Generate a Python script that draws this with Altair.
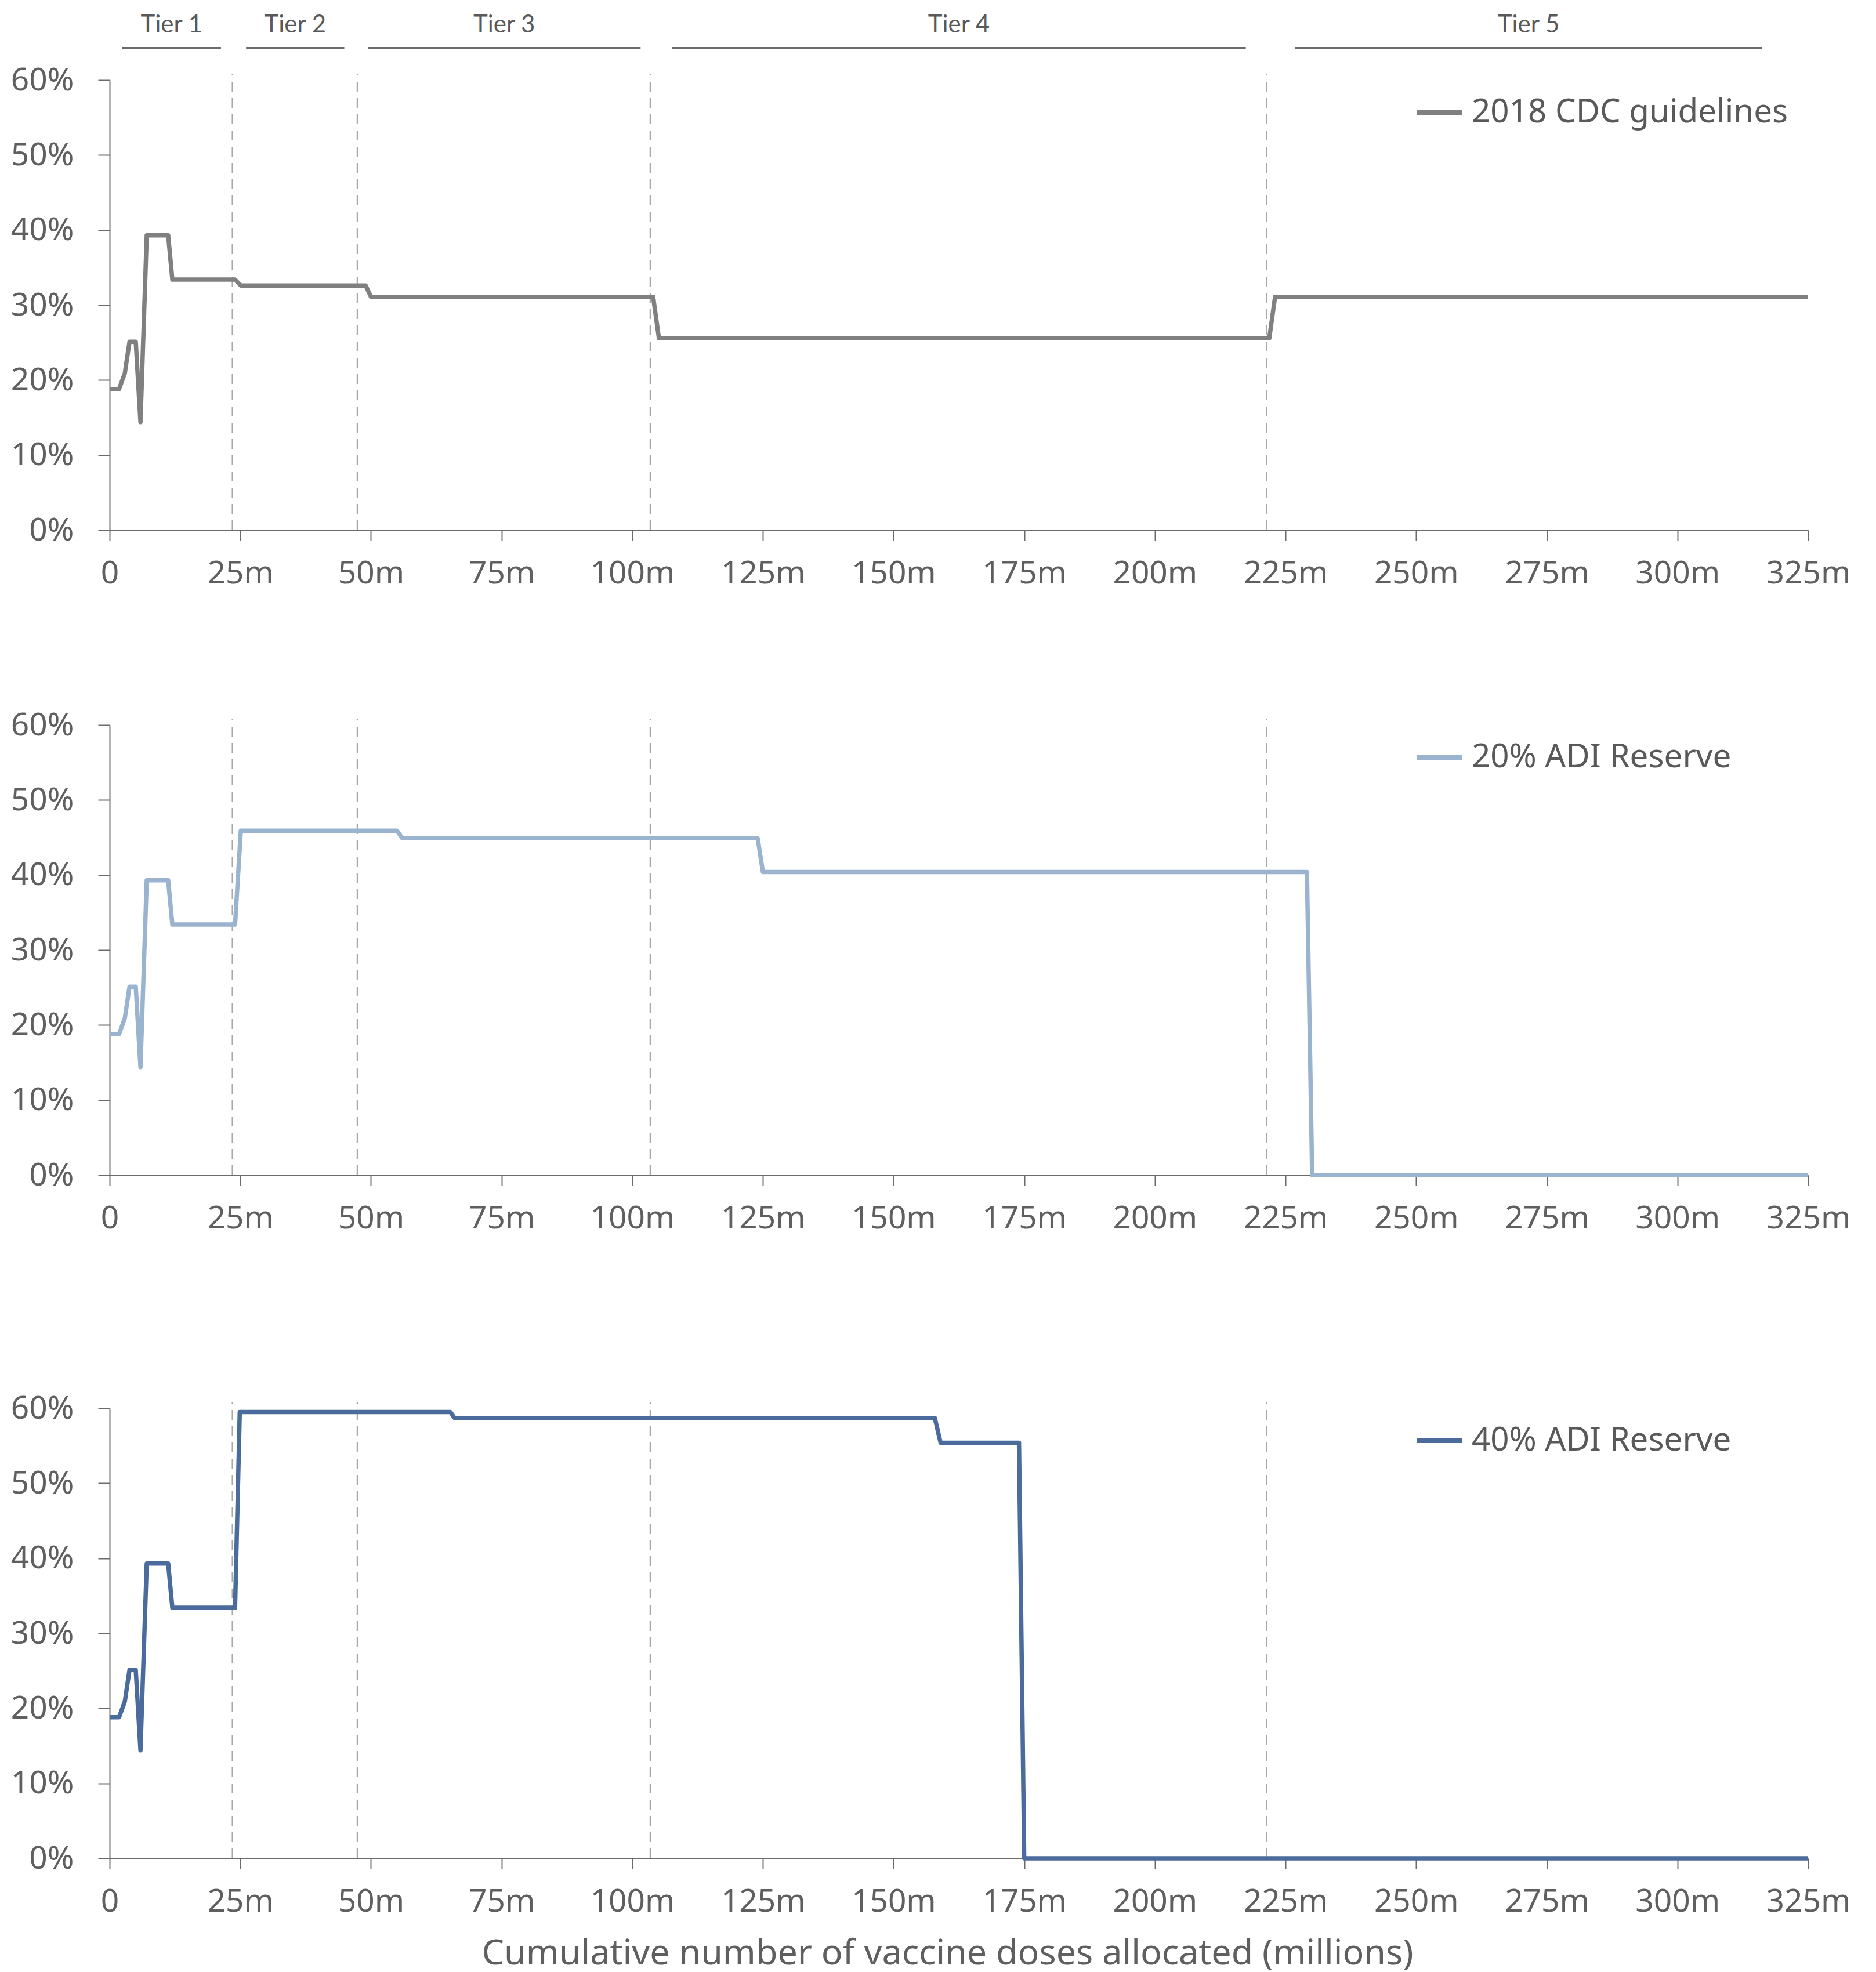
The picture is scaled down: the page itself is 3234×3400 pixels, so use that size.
import altair as alt
import pandas as pd

# ---- data (x in millions of doses, y in %) ----
x_cdc = [0, 1.8, 2.9, 3.8, 5.0, 5.9, 7.1, 11.2, 12.0, 24.0, 25.1, 49.0, 50.0, 104.0, 105.1, 221.9, 223.0, 325]
y_cdc = [18.8, 18.8, 20.9, 25.1, 25.1, 14.4, 39.3, 39.3, 33.4, 33.4, 32.6, 32.6, 31.1, 31.1, 25.6, 25.6, 31.1, 31.1]

x_adi20 = [0, 1.8, 2.9, 3.8, 5.0, 5.9, 7.1, 11.2, 12.0, 24.0, 25.1, 55.0, 56.0, 124.0, 125.0, 229.1, 230.1, 325]
y_adi20 = [18.8, 18.8, 20.9, 25.1, 25.1, 14.4, 39.3, 39.3, 33.4, 33.4, 45.9, 45.9, 44.9, 44.9, 40.4, 40.4, 0, 0]

x_adi40 = [0, 1.8, 2.9, 3.8, 5.0, 5.9, 7.1, 11.2, 12.0, 24.0, 24.9, 65.2, 66.0, 157.9, 159.0, 174.0, 175.0, 325]
y_adi40 = [18.8, 18.8, 20.9, 25.1, 25.1, 14.4, 39.3, 39.3, 33.4, 33.4, 59.5, 59.5, 58.7, 58.7, 55.4, 55.4, 0, 0]

series_names = ["2018 CDC guidelines", "20% ADI Reserve", "40% ADI Reserve"]
series_colors = ["#808080", "#9ab3cf", "#4a6b9b"]

tier_boundaries = [23.5, 47.4, 103.45, 221.4]
tier_names = ["Tier 1", "Tier 2", "Tier 3", "Tier 4", "Tier 5"]
tier_start = [2.4, 26.1, 49.4, 107.6, 226.8]
tier_end = [21.3, 44.9, 101.6, 217.4, 316.2]

x_ticks = [0, 25, 50, 75, 100, 125, 150, 175, 200, 225, 250, 275, 300, 325]
y_ticks = [0, 10, 20, 30, 40, 50, 60]

FONT = "Noto Sans"
TIER_FONT = "Lato"
AXIS_COLOR = "#6b6b6b"
LABEL_COLOR = "#5f5f5f"
W, H = 2928, 776

xscale = alt.Scale(domain=[0, 325], nice=False, zero=False)
yscale = alt.Scale(domain=[0, 60], nice=False)


def x_axis(title=None, extent=None):
    kw = dict(
        values=x_ticks,
        labelExpr="datum.value == 0 ? '0' : datum.value + 'm'",
        tickSize=18, tickWidth=2, tickColor=AXIS_COLOR,
        domainColor=AXIS_COLOR, domainWidth=2,
        labelFont=FONT, labelFontSize=55, labelColor=LABEL_COLOR,
        labelPadding=30, grid=False, labelFlush=False, labelOverlap=False,
    )
    if title is not None:
        kw.update(title=title, titleFont=FONT, titleFontSize=61,
                  titleFontWeight="normal", titleColor=LABEL_COLOR, titlePadding=32,
                  titleX=1444, titleAlign="center")
    else:
        kw.update(title=None)
    if extent is not None:
        kw.update(minExtent=extent, maxExtent=extent)
    return alt.Axis(**kw)


y_axis = alt.Axis(
    values=y_ticks, labelExpr="datum.value + '%'", title=None,
    tickSize=20, tickWidth=2, tickColor=AXIS_COLOR,
    domainColor=AXIS_COLOR, domainWidth=2,
    labelFont=FONT, labelFontSize=55, labelColor=LABEL_COLOR,
    labelPadding=42, grid=False, minExtent=172, maxExtent=172,
    labelFlush=False, labelOverlap=False,
)


def panel(xs, ys, idx, xax, tiers=False):
    name, color = series_names[idx], series_colors[idx]
    df = pd.DataFrame({"x": xs, "y": ys, "series": name})
    bdf = pd.DataFrame({"x": tier_boundaries})
    rules = alt.Chart(bdf).mark_rule(
        color="#a8a8a8", strokeWidth=2.5, strokeDash=[17, 11]
    ).encode(
        x=alt.X("x:Q", scale=xscale, axis=xax),
        y=alt.datum(0, scale=yscale),
        y2=alt.datum(60.8),
    )
    line = alt.Chart(df).mark_line(
        strokeWidth=7.5, strokeJoin="round", strokeCap="butt"
    ).encode(
        x=alt.X("x:Q", scale=xscale, axis=xax),
        y=alt.Y("y:Q", scale=yscale, axis=y_axis),
        color=alt.Color(
            "series:N",
            scale=alt.Scale(domain=[name], range=[color]),
            legend=alt.Legend(
                orient="none", legendX=2249, legendY=13, title=None,
                symbolType="stroke", symbolSize=6084, symbolStrokeWidth=8,
                labelFont=FONT, labelFontSize=56.5, labelColor="#595959",
                labelOffset=13, padding=0, rowPadding=0, labelLimit=1000,
            ),
        ),
    )
    layers = [rules, line]
    if tiers:
        tdf = pd.DataFrame({"name": tier_names, "s": tier_start, "e": tier_end})
        tline = alt.Chart(tdf).mark_rule(color="#6b6b6b", strokeWidth=3).encode(
            x=alt.X("s:Q", scale=xscale, axis=xax),
            x2="e:Q",
            y=alt.datum(64.3),
        )
        ttext = alt.Chart(tdf).transform_calculate(
            mid="(datum.s + datum.e) / 2"
        ).mark_text(
            font=TIER_FONT, fontSize=42, color="#595959", baseline="alphabetic", align="center"
        ).encode(
            x=alt.X("mid:Q", scale=xscale, axis=xax),
            y=alt.datum(66.35),
            text="name:N",
        )
        layers += [tline, ttext]
    return alt.layer(*layers).properties(width=W, height=H)


top = panel(x_cdc, y_cdc, 0, x_axis(extent=100), tiers=True)
mid = panel(x_adi20, y_adi20, 1, x_axis(extent=168))
bot = panel(x_adi40, y_adi40, 2,
            x_axis(title="Cumulative number of vaccine doses allocated (millions)"))

chart = alt.vconcat(top, mid, bot, spacing=207).resolve_scale(
    color="independent"
).resolve_legend(color="independent").properties(
    padding={"top": 13, "left": 9, "right": 10, "bottom": 10}
).configure(background="white", view=alt.ViewConfig(stroke=None))

chart.save("out.html", embed_options={"renderer": "svg", "actions": False})
